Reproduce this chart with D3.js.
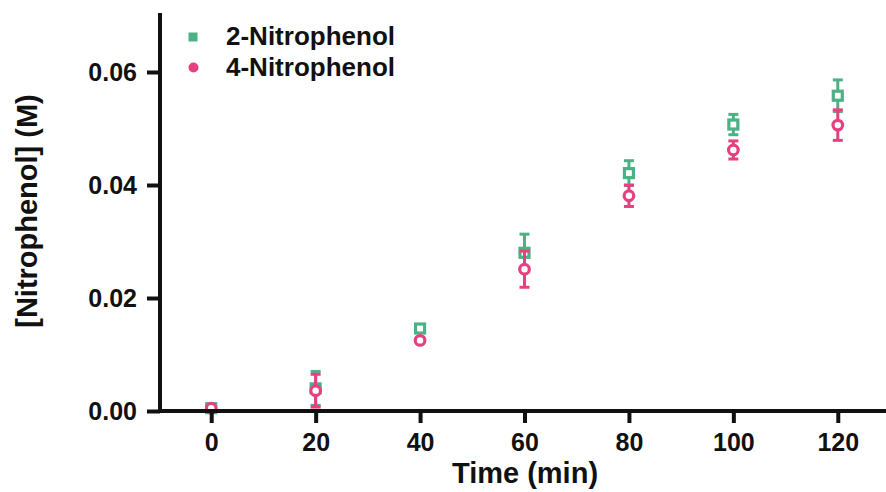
<!DOCTYPE html>
<html>
<head>
<meta charset="utf-8">
<script src="https://cdn.jsdelivr.net/npm/d3@7/dist/d3.min.js"></script>
<style>
  html, body { margin: 0; padding: 0; background: #fff; }
  svg { display: block; }
  text { font-family: "Liberation Sans", Arial, Helvetica, sans-serif; font-weight: bold; fill: #111; }
</style>
</head>
<body>
<svg id="chart" width="886" height="492"></svg>
<script>
// Sampling times (min)
const times = [0, 20, 40, 60, 80, 100, 120];

// Mean concentrations (M) and standard deviations
const nitro2Mean = [0.0005, 0.0040, 0.0146, 0.0280, 0.0421, 0.0507, 0.0558];
const nitro2Err  = [0.0002, 0.0030, 0.0004, 0.0033, 0.0022, 0.0018, 0.0028];
const nitro4Mean = [0.0005, 0.0036, 0.0125, 0.0251, 0.0381, 0.0462, 0.0506];
const nitro4Err  = [0.0002, 0.0029, 0.0003, 0.0032, 0.0019, 0.0016, 0.0027];

const seriesNames = ["2-Nitrophenol", "4-Nitrophenol"];
const xTicks = [0, 20, 40, 60, 80, 100, 120];
const yTicks = [0, 0.02, 0.04, 0.06];

const green = "#4cb184";
const pink = "#e83f80";

const svg = d3.select("#chart");

const x = d3.scaleLinear().domain([-10, 130]).range([159, 890]);
const y = d3.scaleLinear().domain([0, 0.07]).range([411, 15.5]);

const series = [
  { name: seriesNames[0], mean: nitro2Mean, err: nitro2Err, color: green, shape: "square" },
  { name: seriesNames[1], mean: nitro4Mean, err: nitro4Err, color: pink, shape: "circle" }
];

const plot = svg.append("g");
const capW = 5;

series.forEach(s => {
  const pts = times.map((t, i) => ({ t, m: s.mean[i], e: s.err[i] }));
  const g = plot.append("g");
  const eb = g.selectAll("g.eb").data(pts).join("g").attr("class", "eb")
    .attr("stroke", s.color).attr("stroke-width", 3).attr("fill", "none");
  eb.append("line")
    .attr("x1", d => x(d.t)).attr("x2", d => x(d.t))
    .attr("y1", d => y(d.m + d.e)).attr("y2", d => y(d.m - d.e));
  eb.append("line")
    .attr("x1", d => x(d.t) - capW).attr("x2", d => x(d.t) + capW)
    .attr("y1", d => y(d.m + d.e)).attr("y2", d => y(d.m + d.e));
  eb.append("line")
    .attr("x1", d => x(d.t) - capW).attr("x2", d => x(d.t) + capW)
    .attr("y1", d => y(d.m - d.e)).attr("y2", d => y(d.m - d.e));

  if (s.shape === "square") {
    g.selectAll("rect.mk").data(pts).join("rect").attr("class", "mk")
      .attr("x", d => x(d.t) - 4.5).attr("y", d => y(d.m) - 4.5)
      .attr("width", 9).attr("height", 9)
      .attr("fill", "#fff").attr("stroke", s.color).attr("stroke-width", 3.2);
  } else {
    g.selectAll("circle.mk").data(pts).join("circle").attr("class", "mk")
      .attr("cx", d => x(d.t)).attr("cy", d => y(d.m)).attr("r", 4.8)
      .attr("fill", "#fff").attr("stroke", s.color).attr("stroke-width", 3.2);
  }
});

// Axes
const yAxis = svg.append("g")
  .attr("transform", "translate(160,0)")
  .call(d3.axisLeft(y).tickValues(yTicks).tickFormat(d3.format(".2f"))
    .tickSize(13).tickSizeOuter(0).tickPadding(10));
const xAxis = svg.append("g")
  .attr("transform", "translate(0,411)")
  .call(d3.axisBottom(x).tickValues(xTicks).tickSize(12).tickSizeOuter(0).tickPadding(10));

[yAxis, xAxis].forEach(a => {
  a.select(".domain").attr("stroke", "#111").attr("stroke-width", 4);
  a.selectAll(".tick line").attr("stroke", "#111").attr("stroke-width", 4);
  a.selectAll(".tick text").attr("font-size", 25).attr("fill", "#111")
    .attr("font-family", "'Liberation Sans', Arial, sans-serif").attr("font-weight", "bold");
});
yAxis.select(".domain").attr("d", `M0,${y(0) + 2}V13`);
xAxis.select(".domain").attr("d", `M158,0H886`);

// Axis titles
svg.append("text")
  .attr("x", 525).attr("y", 483)
  .attr("text-anchor", "middle").attr("font-size", 29)
  .text("Time (min)");
svg.append("text")
  .attr("transform", "translate(37,211) rotate(-90)")
  .attr("text-anchor", "middle").attr("font-size", 29)
  .text("[Nitrophenol] (M)");

// Legend
const legend = svg.append("g");
legend.append("rect").attr("x", 188.5).attr("y", 32.5).attr("width", 9).attr("height", 9).attr("fill", green);
legend.append("circle").attr("cx", 193.5).attr("cy", 67.5).attr("r", 5).attr("fill", pink);
legend.append("text").attr("x", 226).attr("y", 45).attr("font-size", 26).text(seriesNames[0]);
legend.append("text").attr("x", 226).attr("y", 76).attr("font-size", 26).text(seriesNames[1]);
</script>
</body>
</html>
